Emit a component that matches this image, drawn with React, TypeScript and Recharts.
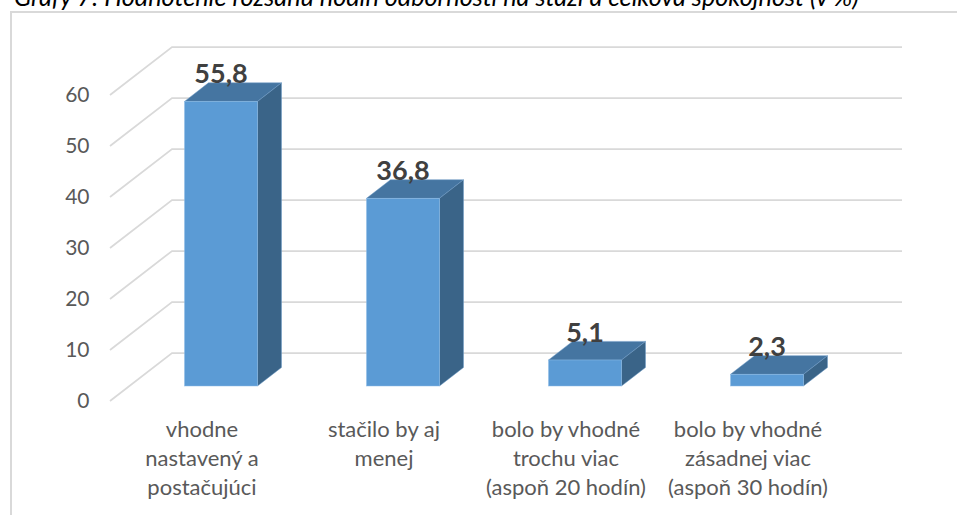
import { BarChart, Bar, XAxis, YAxis, CartesianGrid, LabelList } from 'recharts';

const categorie = ['vhodne', 'stacilo', 'trochu', 'zasadne'];
const hodnoty = [55.8, 36.8, 5.1, 2.3];
const popisky = [
  ['vhodne', 'nastavený a', 'postačujúci'],
  ['stačilo by aj', 'menej'],
  ['bolo by vhodné', 'trochu viac', '(aspoň 20 hodín)'],
  ['bolo by vhodné', 'zásadnej viac', '(aspoň 30 hodín)'],
];
const osY = [0, 10, 20, 30, 40, 50, 60];
const nadpis = 'Grafy 7: Hodnotenie rozsahu hodín odbornosti na stáži a celková spokojnosť (v %)';

const data = categorie.map((c, i) => ({ name: c, value: hodnoty[i] }));

const FONT = 'Lato';

// stlpec s 3D vzhladom: predna stena, vrch a bok
function Stlpec(props: any) {
  const { x, y, width, height } = props;
  const dx = 24;
  const dy = 18.6;
  return (
    <g>
      <path d={`M${x},${y} L${x + dx},${y - dy} L${x + width + dx},${y - dy} L${x + width},${y} Z`} fill="#4575A1" stroke="#6C9AC6" strokeWidth={0.5} />
      <path d={`M${x + width},${y} L${x + width + dx},${y - dy} L${x + width + dx},${y + height - dy} L${x + width},${y + height} Z`} fill="#3A6488" stroke="#6C9AC6" strokeWidth={0.5} />
      <rect x={x} y={y} width={width} height={height} fill="#5B9BD5" stroke="#8DBBE5" strokeWidth={0.5} />
    </g>
  );
}

// mriezka: sikma ciara od osi a potom vodorovne po zadnej stene
function Mriezka(props: any) {
  const { x1, x2, y1 } = props;
  return (
    <path
      d={`M${x1 - 19.5},${y1 + 15} L${x1 + 42.5},${y1 - 33} L${x2 + 44.5},${y1 - 33}`}
      fill="none"
      stroke="#D9D9D9"
      strokeWidth={1.75}
    />
  );
}

function PopisX(props: any) {
  const { x, y, index } = props;
  const riadky = popisky[index] || [];
  return (
    <text x={x - 18.5} y={y} textAnchor="middle" fontFamily={FONT} fontSize={22} fill="#595959">
      {riadky.map((r, i) => (
        <tspan key={i} x={x - 18.5} y={y + 43 + i * 29}>{r}</tspan>
      ))}
    </text>
  );
}

function Hodnota(props: any) {
  const { x, y, width, value } = props;
  return (
    <text x={x + width / 2} y={y - 18} textAnchor="middle" fontFamily={FONT} fontSize={27} fontWeight="bold" fill="#404040">
      {String(value).replace('.', ',')}
    </text>
  );
}

export default function App() {
  return (
    <div style={{ position: 'absolute', left: 0, top: 0, width: 957, height: 515, background: '#fff', overflow: 'hidden' }}>
      <div style={{
        position: 'absolute', left: 14, top: -19, width: 943, whiteSpace: 'nowrap',
        fontFamily: FONT, fontStyle: 'italic', fontSize: 25.25, color: '#000', lineHeight: '30px',
      }}>
        {nadpis}
      </div>
      <div style={{
        position: 'absolute', left: 10, top: 11, width: 947, height: 504,
        borderTop: '2px solid #D9D9D9', borderLeft: '2px solid #D9D9D9', boxSizing: 'border-box',
      }} />
      <div style={{ position: 'absolute', left: 0, top: 0 }}>
        <BarChart width={957} height={515} data={data} margin={{ top: 80, right: 99.5, bottom: 0, left: 0 }}>
          <CartesianGrid vertical={false} horizontal={Mriezka as any} />
          <XAxis dataKey="name" height={129} axisLine={false} tickLine={false} interval={0} tick={PopisX as any} />
          <YAxis
            width={129.5}
            domain={[0, 60]}
            ticks={osY}
            axisLine={false}
            tickLine={false}
            tickMargin={34}
            tick={{ fontFamily: FONT, fontSize: 21, fill: '#595959', dy: 15 }}
          />
          <Bar dataKey="value" barSize={73} shape={Stlpec as any} isAnimationActive={false}>
            <LabelList dataKey="value" content={Hodnota as any} />
          </Bar>
        </BarChart>
      </div>
    </div>
  );
}
